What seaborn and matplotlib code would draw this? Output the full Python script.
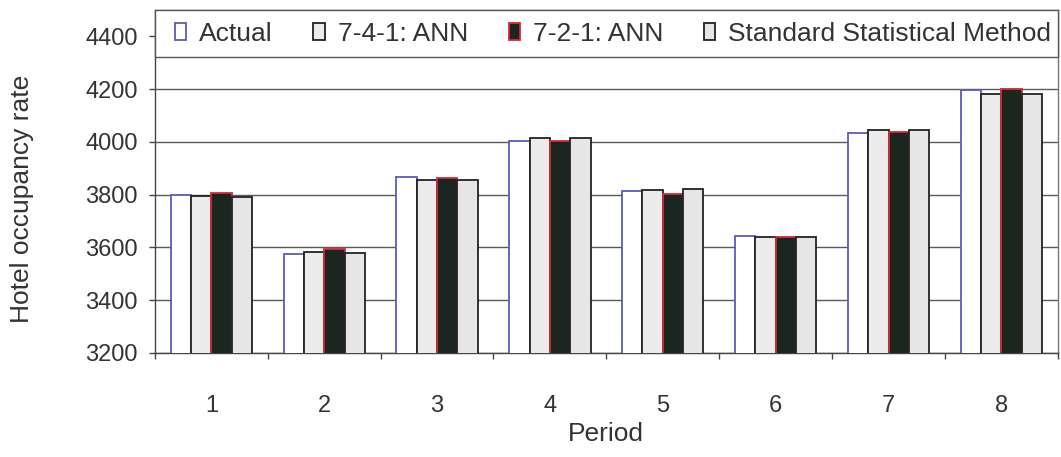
import numpy as np
import pandas as pd
import matplotlib
matplotlib.use("Agg")
import matplotlib.pyplot as plt
from matplotlib.patches import Rectangle
import seaborn as sns

periods = ["1", "2", "3", "4", "5", "6", "7", "8"]
actual = [3798, 3575, 3868, 4004, 3815, 3645, 4033, 4196]
ann_741 = [3795, 3582, 3855, 4015, 3816, 3639, 4046, 4183]
ann_721 = [3808, 3594, 3865, 4002, 3803, 3640, 4038, 4200]
standard = [3793, 3580, 3855, 4015, 3820, 3638, 4046, 4183]

series_names = ["Actual", "7-4-1: ANN", "7-2-1: ANN", "Standard Statistical Method"]
face_colors = ["#ffffff", "#ececec", "#1b2620", "#e6e6e6"]
edge_colors = ["#5a5ab8", "#222222", "#d8283a", "#222222"]

df = pd.DataFrame({
    "Period": periods * 4,
    "Method": np.repeat(series_names, len(periods)),
    "Value": actual + ann_741 + ann_721 + standard,
})

sns.set_theme(style="white")
plt.rcParams["font.family"] = ["Liberation Sans", "DejaVu Sans"]
text_color = "#333333"

fig = plt.figure(figsize=(10.61, 4.57), dpi=100)
ax = fig.add_axes([0.146, 0.2276, 0.851, 0.7504])

sns.barplot(data=df, x="Period", y="Value", hue="Method", hue_order=series_names,
            palette=face_colors, width=0.72, gap=0, saturation=1, ax=ax,
            legend=False, errorbar=None)

for cont, ec in zip(ax.containers, edge_colors):
    for bar in cont:
        bar.set_edgecolor(ec)
        bar.set_linewidth(1.3)
        bar.set_zorder(3)

ax.set_ylim(3200, 4500)
ax.set_xlim(-0.5, 7.5)
ax.set_yticks(np.arange(3200, 4401, 200))
ax.yaxis.grid(True, color="#5a5a5a", linewidth=1.0, zorder=0)
ax.set_axisbelow(True)

for side in ["left", "bottom"]:
    ax.spines[side].set_color("#444444")
    ax.spines[side].set_linewidth(1.0)
for side in ["right", "top"]:
    ax.spines[side].set_color("#777777")
    ax.spines[side].set_linewidth(1.0)

ax.tick_params(axis="y", which="major", direction="out", length=4.5, width=1,
               color="#444444", labelsize=17, labelcolor=text_color, pad=8, left=True)
ax.tick_params(axis="x", which="major", length=0, labelsize=17,
               labelcolor=text_color, pad=30)
ax.set_xticks(np.arange(-0.5, 7.6, 1.0), minor=True)
ax.tick_params(axis="x", which="minor", direction="out", length=4, width=1,
               color="#444444", bottom=True)

ax.set_xlabel("Period", fontsize=19, color=text_color)
ax.xaxis.set_label_coords(0.5, -0.2)
ax.set_ylabel("Hotel occupancy rate", fontsize=19, color=text_color)
ax.yaxis.set_label_coords(-0.134, 0.45)

# legend band across the top of the plot area
legend_bottom = 0.863
band = Rectangle((0, legend_bottom), 1, 1 - legend_bottom, transform=ax.transAxes,
                 facecolor="white", edgecolor="#555555", linewidth=1.0,
                 zorder=5, clip_on=False)
ax.add_patch(band)

handles = [Rectangle((0, 0), 1, 1, facecolor=fc, edgecolor=ec, linewidth=1.3)
           for fc, ec in zip(face_colors, edge_colors)]
leg = ax.legend(handles, series_names, loc="center", ncol=4,
                bbox_to_anchor=(0.022, legend_bottom, 0.971, 1 - legend_bottom),
                mode="expand", borderaxespad=0, borderpad=0, frameon=False,
                fontsize=19, handlelength=0.42, handleheight=0.6,
                handletextpad=0.5, columnspacing=1.0)
for t in leg.get_texts():
    t.set_color(text_color)
leg.set_zorder(6)

fig.savefig("out.png", dpi=100, facecolor="white")
